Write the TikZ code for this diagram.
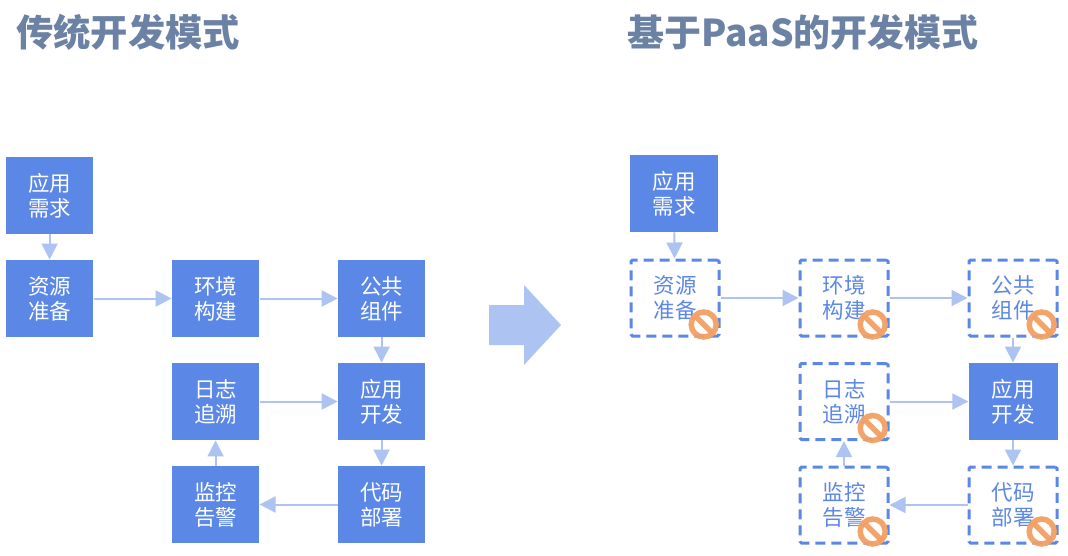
\documentclass[tikz,border=0pt]{standalone}
\usepackage{fontspec}
\setmainfont{Noto Sans CJK SC}
\usepackage{tikz}
\usetikzlibrary{arrows.meta,positioning}
\definecolor{boxblue}{HTML}{5B87E6}
\definecolor{flowblue}{HTML}{ADC3F2}
\definecolor{headgrey}{HTML}{6C82A5}
\definecolor{noorange}{HTML}{F2A064}
\tikzset{>/.tip={Triangle[length=16pt,width=16pt]}}
\tikzset{stage/.style={fill=boxblue,text=white,minimum width=87.5pt,minimum height=77.5pt,inner sep=0pt,align=center,font=\fontsize{21.5pt}{25pt}\selectfont}}
\tikzset{saved/.style={stage,fill=white,draw=boxblue,text=boxblue,line width=3pt,dash pattern=on 10pt off 6pt,rounded corners=1.5pt,minimum width=88pt,minimum height=76pt}}
\tikzset{flow/.style={->,draw=flowblue,line width=2pt}}
\tikzset{headline/.style={anchor=west,inner sep=0pt,text=headgrey,font=\fontsize{37.3pt}{40pt}\selectfont\bfseries}}
\tikzset{noentry/.style={circle,draw=noorange,line width=5.5pt,minimum size=25pt,inner sep=0pt,opacity=.95,path picture={\draw[noorange,line width=5.5pt] (path picture bounding box.north west) -- (path picture bounding box.south east);}}}

\begin{document}
\begin{tikzpicture}[x=1pt,y=-1pt,on grid,node distance=103pt and 166pt]
        \useasboundingbox (0,0) rectangle (1068,556);
        \node(ltitle)[headline] at (16,32){传统开发模式};
        \node(rtitle)[headline,font=\fontsize{37pt}{40pt}\selectfont\bfseries] at (627,32){基于PaaS的开发模式};
        % left flow
        \node(lneed)[stage] at (49.6,195.5){应用\\需求};
        \node(lres)[stage,below=of lneed]{资源\\准备};
        \node(lenv)[stage,right=of lres]{环境\\构建};
        \node(lcom)[stage,right=of lenv]{公共\\组件};
        \node(ldev)[stage,below=of lcom]{应用\\开发};
        \node(llog)[stage,left=of ldev]{日志\\追溯};
        \node(ldep)[stage,below=of ldev]{代码\\部署};
        \node(lmon)[stage,left=of ldep]{监控\\告警};
        \draw[flow] (lneed) -- (lres);
        \draw[flow] (lres) -- (lenv);
        \draw[flow] (lenv) -- (lcom);
        \draw[flow] (lcom) -- (ldev);
        \draw[flow] (llog) -- (ldev);
        \draw[flow] (ldev) -- (ldep);
        \draw[flow] (ldep) -- (lmon);
        \draw[flow] (lmon) -- (llog);
        % big arrow
        \fill[flowblue] (489,305) -- (524,305) -- (524,285) -- (561,325) -- (524,365) -- (524,345) -- (489,345) -- cycle;
        % right flow
        \begin{scope}[node distance=103.5pt and 169pt]
          \node(rneed)[stage,minimum width=88pt] at (674,193.5){应用\\需求};
          \node(rres)[saved] at (675,298){资源\\准备};
          \node(renv)[saved,right=of rres]{环境\\构建};
          \node(rcom)[saved,right=of renv]{公共\\组件};
          \node(rdev)[stage,minimum width=89pt,below=of rcom]{应用\\开发};
          \node(rlog)[saved,left=of rdev]{日志\\追溯};
          \node(rdep)[saved,below=of rdev]{代码\\部署};
          \node(rmon)[saved,left=of rdep]{监控\\告警};
        \end{scope}
        \draw[flow] (rneed) -- (rres);
        \draw[flow] (rres) -- (renv);
        \draw[flow] (renv) -- (rcom);
        \draw[flow] (rcom) -- (rdev);
        \draw[flow] (rlog) -- (rdev);
        \draw[flow] (rdev) -- (rdep);
        \draw[flow] (rdep) -- (rmon);
        \draw[flow] (rmon) -- (rlog);
        \foreach \n in {rres,renv,rcom,rlog,rmon,rdep}
          \node(no\n)[noentry] at ([shift={(-16.8pt,13pt)}]\n.south east){};
      \end{tikzpicture}
\end{document}
